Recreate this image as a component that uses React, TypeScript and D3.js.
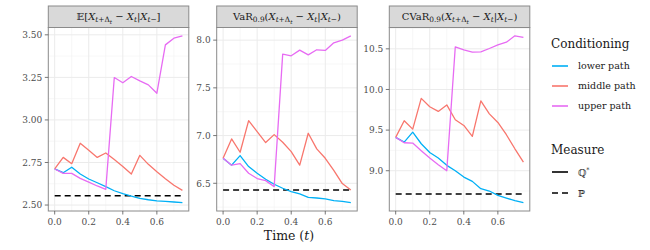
import * as d3 from 'd3';

// =============================================================================
// Data
// =============================================================================

const times = [0, 0.05, 0.1, 0.15, 0.2, 0.25, 0.3, 0.35, 0.4, 0.45, 0.5, 0.55, 0.6, 0.65, 0.7, 0.75];

const conditioning = ['lower path', 'middle path', 'upper path'];
const condColors = ['#00B0F6', '#F8766D', '#E76BF3'];

// panel 1: expectation
const meanLower = [2.712, 2.69, 2.722, 2.682, 2.653, 2.631, 2.608, 2.584, 2.567, 2.553, 2.539, 2.531, 2.525, 2.522, 2.518, 2.514];
const meanMiddle = [2.712, 2.78, 2.743, 2.863, 2.822, 2.78, 2.806, 2.767, 2.727, 2.682, 2.792, 2.739, 2.696, 2.655, 2.616, 2.586];
const meanUpper = [2.712, 2.686, 2.686, 2.657, 2.635, 2.612, 2.592, 3.249, 3.218, 3.255, 3.229, 3.206, 3.157, 3.441, 3.48, 3.494];
const meanP = 2.555;

// panel 2: VaR
const varLower = [6.762, 6.69, 6.79, 6.675, 6.605, 6.542, 6.49, 6.448, 6.413, 6.388, 6.353, 6.346, 6.336, 6.318, 6.311, 6.297];
const varMiddle = [6.762, 6.965, 6.825, 7.157, 7.042, 6.927, 7.01, 6.93, 6.832, 6.69, 7.024, 6.86, 6.762, 6.636, 6.497, 6.43];
const varUpper = [6.762, 6.69, 6.706, 6.605, 6.55, 6.528, 6.465, 7.853, 7.836, 7.895, 7.846, 7.899, 7.892, 7.972, 8.0, 8.045];
const varP = 6.43;

// panel 3: CVaR
const cvarLower = [9.41, 9.352, 9.475, 9.332, 9.225, 9.156, 9.066, 9.0, 8.922, 8.869, 8.779, 8.75, 8.697, 8.664, 8.631, 8.607];
const cvarMiddle = [9.41, 9.615, 9.512, 9.89, 9.787, 9.73, 9.81, 9.627, 9.557, 9.422, 9.86, 9.7, 9.594, 9.443, 9.27, 9.107];
const cvarUpper = [9.41, 9.344, 9.34, 9.246, 9.156, 9.074, 9.0, 10.525, 10.488, 10.459, 10.463, 10.504, 10.549, 10.582, 10.66, 10.64];
const cvarP = 8.713;

const xTicks = [0, 0.2, 0.4, 0.6];
const xMinor = [0.1, 0.3, 0.5, 0.7];
const meanTicks = [2.5, 2.75, 3.0, 3.25, 3.5];
const varTicks = [6.5, 7.0, 7.5, 8.0];
const cvarTicks = [9.0, 9.5, 10.0, 10.5];

// =============================================================================
// Layout
// =============================================================================

const FONT = "'DejaVu Serif', 'Liberation Serif', serif";
const PANEL_TOP = 27.5;
const PANEL_BOTTOM = 211;
const STRIP_TOP = 6;
const PANEL_W = 140.5;
const BORDER = '#8a8a8a';

type Seg = { t: string; it?: boolean; lv?: number };

const X: Seg[] = [{ t: 'X', it: true }];
const condPart: Seg[] = [
	...X,
	{ t: 't', it: true, lv: 1 },
	{ t: '+Δ', lv: 1 },
	{ t: 't', it: true, lv: 2 },
	{ t: ' − ' },
	...X,
	{ t: 't', it: true, lv: 1 },
	{ t: '|' },
	...X,
	{ t: 't', it: true, lv: 1 },
	{ t: '−', lv: 1 },
];

interface IPanel {
	left: number;
	title: Seg[];
	series: number[][];
	pLevel: number;
	ticks: number[];
	fmt: string;
}

const panels: IPanel[] = [
	{
		left: 48.3,
		title: [{ t: '𝔼[' }, ...condPart, { t: ']' }],
		series: [meanLower, meanMiddle, meanUpper],
		pLevel: meanP,
		ticks: meanTicks,
		fmt: '.2f',
	},
	{
		left: 216.7,
		title: [{ t: 'VaR' }, { t: '0.9', lv: 1 }, { t: '(' }, ...condPart, { t: ')' }],
		series: [varLower, varMiddle, varUpper],
		pLevel: varP,
		ticks: varTicks,
		fmt: '.1f',
	},
	{
		left: 389.3,
		title: [{ t: 'CVaR' }, { t: '0.9', lv: 1 }, { t: '(' }, ...condPart, { t: ')' }],
		series: [cvarLower, cvarMiddle, cvarUpper],
		pLevel: cvarP,
		ticks: cvarTicks,
		fmt: '.1f',
	},
];

const sizes = [10, 7.4, 5.6];
const shifts = [0, 2.4, 4];

function MathText({ x, y, segs }: { x: number; y: number; segs: Seg[] }) {
	let prev = 0;
	return (
		<text x={x} y={y} textAnchor="middle" style={{ fontFamily: FONT }} fill="#1a1a1a">
			{segs.map((s, i) => {
				const lv = s.lv || 0;
				const dy = shifts[lv] - prev;
				prev = shifts[lv];
				return (
					<tspan key={i} dy={dy} fontSize={sizes[lv]} fontStyle={s.it ? 'italic' : 'normal'}>
						{s.t}
					</tspan>
				);
			})}
		</text>
	);
}

function Panel({ p }: { p: IPanel }) {
	const x = d3
		.scaleLinear()
		.domain([-0.0375, 0.7875])
		.range([p.left, p.left + PANEL_W]);
	const all = p.series.flat().concat([p.pLevel]);
	const [lo, hi] = d3.extent(all) as [number, number];
	const pad = (hi - lo) * 0.05;
	const y = d3
		.scaleLinear()
		.domain([lo - pad, hi + pad])
		.range([PANEL_BOTTOM, PANEL_TOP]);

	const step = p.ticks[1] - p.ticks[0];
	const yMinor = [p.ticks[0] - step / 2, ...p.ticks.map((t) => t + step / 2)].filter((v) => v >= lo - pad && v <= hi + pad);

	const line = d3
		.line<number>()
		.x((_, i) => x(times[i]))
		.y((d) => y(d));
	const fmt = d3.format(p.fmt);

	return (
		<g>
			<rect x={p.left} y={PANEL_TOP} width={PANEL_W} height={PANEL_BOTTOM - PANEL_TOP} fill="#fff" />
			{xMinor.map((t) => (
				<line key={'xm' + t} x1={x(t)} x2={x(t)} y1={PANEL_TOP} y2={PANEL_BOTTOM} stroke="#f2f2f2" strokeWidth={0.6} />
			))}
			{yMinor.map((t) => (
				<line key={'ym' + t} x1={p.left} x2={p.left + PANEL_W} y1={y(t)} y2={y(t)} stroke="#f2f2f2" strokeWidth={0.6} />
			))}
			{xTicks.map((t) => (
				<line key={'xg' + t} x1={x(t)} x2={x(t)} y1={PANEL_TOP} y2={PANEL_BOTTOM} stroke="#ebebeb" strokeWidth={1} />
			))}
			{p.ticks.map((t) => (
				<line key={'yg' + t} x1={p.left} x2={p.left + PANEL_W} y1={y(t)} y2={y(t)} stroke="#ebebeb" strokeWidth={1} />
			))}
			<line
				x1={x(times[0])}
				x2={x(times[times.length - 1])}
				y1={y(p.pLevel)}
				y2={y(p.pLevel)}
				stroke="#000"
				strokeWidth={1.6}
				strokeDasharray="6,4"
			/>
			{p.series.map((s, i) => (
				<path key={i} d={line(s) || ''} fill="none" stroke={condColors[i]} strokeWidth={1.3} strokeLinejoin="round" />
			))}
			<rect x={p.left} y={PANEL_TOP} width={PANEL_W} height={PANEL_BOTTOM - PANEL_TOP} fill="none" stroke={BORDER} strokeWidth={1} />
			<rect x={p.left} y={STRIP_TOP} width={PANEL_W} height={PANEL_TOP - STRIP_TOP} fill="#d9d9d9" stroke={BORDER} strokeWidth={1} />
			<MathText x={p.left + PANEL_W / 2} y={19.5} segs={p.title} />
			{xTicks.map((t) => (
				<g key={'xt' + t}>
					<line x1={x(t)} x2={x(t)} y1={PANEL_BOTTOM} y2={PANEL_BOTTOM + 3.5} stroke="#555" strokeWidth={0.8} />
					<text x={x(t)} y={PANEL_BOTTOM + 14} textAnchor="middle" fontSize={9} style={{ fontFamily: FONT }} fill="#4d4d4d">
						{d3.format('.1f')(t)}
					</text>
				</g>
			))}
			{p.ticks.map((t) => (
				<g key={'yt' + t}>
					<line x1={p.left - 3.5} x2={p.left} y1={y(t)} y2={y(t)} stroke="#555" strokeWidth={0.8} />
					<text x={p.left - 6} y={y(t) + 3.3} textAnchor="end" fontSize={9} style={{ fontFamily: FONT }} fill="#4d4d4d">
						{fmt(t)}
					</text>
				</g>
			))}
		</g>
	);
}

function Legend() {
	const lx = 551;
	const rows = [66, 86, 106];
	return (
		<g style={{ fontFamily: FONT }} fill="#1a1a1a">
			<text x={lx} y={48} fontSize={12}>
				Conditioning
			</text>
			{conditioning.map((c, i) => (
				<g key={c}>
					<line x1={lx + 1} x2={lx + 17} y1={rows[i]} y2={rows[i]} stroke={condColors[i]} strokeWidth={1.6} />
					<text x={lx + 27} y={rows[i] + 3.3} fontSize={9.5}>
						{c}
					</text>
				</g>
			))}
			<text x={lx} y={154} fontSize={12}>
				Measure
			</text>
			<line x1={lx + 1} x2={lx + 17} y1={172} y2={172} stroke="#000" strokeWidth={1.6} />
			<text x={lx + 27} y={175.5} fontSize={9.5}>
				ℚ<tspan fontSize={6.5} dy={-4}>*</tspan>
			</text>
			<line x1={lx + 1} x2={lx + 17} y1={193} y2={193} stroke="#000" strokeWidth={1.6} strokeDasharray="6,4" />
			<text x={lx + 27} y={196.5} fontSize={9.5}>
				ℙ
			</text>
		</g>
	);
}

export default function App() {
	return (
		<svg width={650} height={250} style={{ position: 'absolute', left: 0, top: 0, background: '#fff' }}>
			{panels.map((p, i) => (
				<Panel key={i} p={p} />
			))}
			<text x={289} y={240} textAnchor="middle" fontSize={12.5} style={{ fontFamily: FONT }} fill="#1a1a1a">
				Time (<tspan fontStyle="italic">t</tspan>)
			</text>
			<Legend />
		</svg>
	);
}
